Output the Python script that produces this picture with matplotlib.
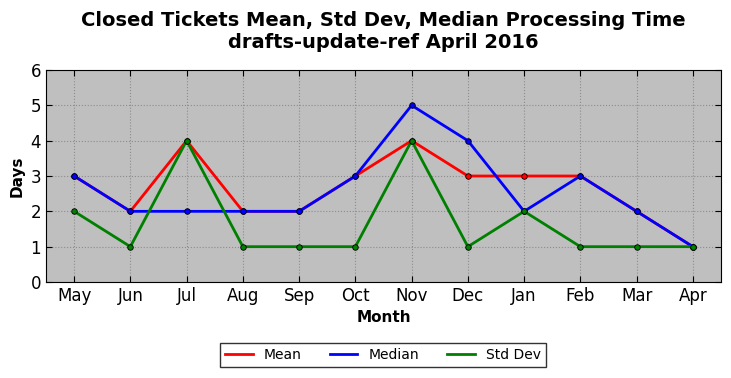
import matplotlib
matplotlib.use("Agg")
import matplotlib.pyplot as plt

months = ["May", "Jun", "Jul", "Aug", "Sep", "Oct", "Nov", "Dec", "Jan", "Feb", "Mar", "Apr"]
mean_vals = [3, 2, 4, 2, 2, 3, 4, 3, 3, 3, 2, 1]
median_vals = [3, 2, 2, 2, 2, 3, 5, 4, 2, 3, 2, 1]
std_vals = [2, 1, 4, 1, 1, 1, 4, 1, 2, 1, 1, 1]

fig = plt.figure(figsize=(7.31, 3.78), dpi=100)
ax = fig.add_axes([46/731, 1-282/378, (721-46)/731, (282-70)/378])
ax.set_facecolor("#bfbfbf")
x = list(range(len(months)))
for vals, col, lab in [(mean_vals, "red", "Mean"), (median_vals, "blue", "Median"), (std_vals, "green", "Std Dev")]:
    ax.plot(x, vals, color=col, lw=2, label=lab)
    ax.plot(x, vals, color=col, lw=0, marker="o", ms=4, mec="black", mew=0.6)
ax.set_xlim(-0.5, 11.5)
ax.set_ylim(0, 6)
ax.set_xticks(x)
ax.set_xticklabels(months, fontsize=12)
ax.tick_params(axis="both", direction="in", top=True, right=True, labelsize=12, length=4)
ax.grid(True, color="#8c8c8c", linestyle=":", linewidth=0.8)
ax.set_axisbelow(True)
ax.set_xlabel("Month", fontsize=11, fontweight="bold")
ax.set_ylabel("Days", fontsize=11, fontweight="bold")
fig.suptitle("Closed Tickets Mean, Std Dev, Median Processing Time\ndrafts-update-ref April 2016",
             fontsize=14, fontweight="bold", x=383.5/731, y=0.972)
fig.legend(loc="center", bbox_to_anchor=(383/731, 1-355/378), ncol=3, fontsize=10,
           frameon=True, fancybox=False, edgecolor="black", columnspacing=2.0, handlelength=2.0,
           borderpad=0.35)
fig.savefig("out.png", dpi=100)
